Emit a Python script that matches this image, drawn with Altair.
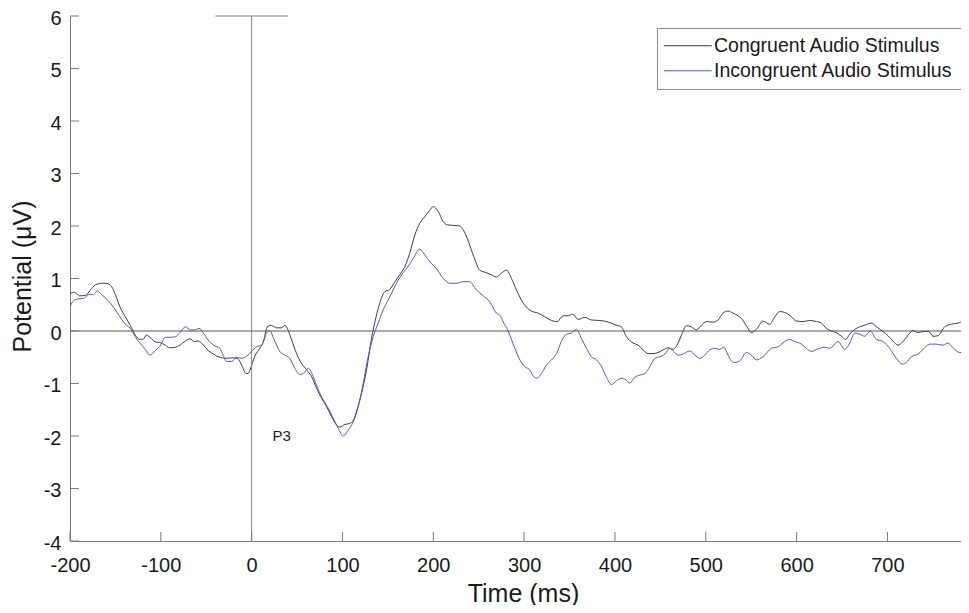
import altair as alt
import pandas as pd

# ---------------- data ----------------
series_names = ["Congruent Audio Stimulus", "Incongruent Audio Stimulus"]
series_colors = ["#3c3c3c", "#5050ff"]

cong_t = [-200, -196, -192, -189, -183, -178, -172, -163, -158, -154, -150, -145, -139, -136, -132,
          -128, -123, -119, -116, -112, -106, -101, -95, -90, -84, -79, -73, -68, -63, -59, -53, -48,
          -42, -37, -27.5, -20, -15, -11, -6, -4, 0, 4, 9, 13.5, 16.5, 20, 24, 28, 33, 36.6, 40, 44,
          49.5, 55, 60.5, 66, 71.5, 77, 82.5, 88, 93.5, 97, 102.6, 108, 112, 116, 121, 126.5, 132,
          137, 141, 146.6, 152, 157.7, 163, 168.7, 174, 179.7, 185, 190.7, 196, 200, 205, 211, 216,
          224, 229, 235, 240, 246, 251, 258.5, 264, 269.5, 275, 280.5, 286, 291.6, 299, 308, 315.5,
          322.8, 330, 336.4, 343, 348.5, 353.3, 359.5, 366.8, 374, 383.3, 390.7, 396, 401.7, 407,
          412.7, 420, 425.5, 431, 436.5, 442, 447.5, 453, 458.5, 464, 467.7, 473.2, 478.7, 484,
          489.7, 495.2, 500.7, 508, 513.6, 519, 524.6, 530, 535.6, 539.2, 544.7, 550.2, 555.7, 563,
          570.4, 576, 581.4, 588.8, 594.3, 599.8, 607.1, 614.4, 621.8, 627.3, 632.8, 638.3, 643.8,
          649.3, 654, 658.5, 664, 669.5, 675, 682.3, 687.8, 695.1, 700.6, 706.1, 711.7, 717.2,
          722.7, 728.2, 733.7, 739.2, 745.4, 750.2, 755.7, 763, 770.3, 777.7, 783.2, 789.4]
cong_v = [0.70, 0.74, 0.70, 0.67, 0.68, 0.77, 0.88, 0.91, 0.90, 0.84, 0.69, 0.46, 0.27, 0.18, 0.05,
          -0.08, -0.16, -0.15, -0.08, -0.12, -0.21, -0.22, -0.27, -0.32, -0.31, -0.27, -0.19, -0.15,
          -0.20, -0.19, -0.27, -0.37, -0.44, -0.49, -0.52, -0.51, -0.53, -0.65, -0.81, -0.81, -0.65,
          -0.46, -0.33, -0.17, 0.05, 0.11, 0.09, 0.06, 0.06, 0.11, 0.02, -0.17, -0.43, -0.62, -0.74,
          -0.87, -1.09, -1.28, -1.44, -1.63, -1.79, -1.83, -1.78, -1.76, -1.70, -1.50, -1.19, -0.74,
          -0.14, 0.27, 0.53, 0.75, 0.79, 0.94, 1.07, 1.23, 1.48, 1.83, 2.05, 2.18, 2.30, 2.37, 2.29,
          2.08, 2.02, 2.01, 2.00, 1.86, 1.64, 1.35, 1.16, 1.11, 1.07, 1.03, 1.10, 1.16, 1.00, 0.78,
          0.53, 0.38, 0.34, 0.27, 0.20, 0.18, 0.29, 0.29, 0.32, 0.22, 0.26, 0.21, 0.20, 0.18, 0.15,
          0.11, 0.08, -0.11, -0.23, -0.27, -0.36, -0.43, -0.43, -0.41, -0.36, -0.32, -0.35, -0.29,
          -0.08, 0.10, 0.08, 0.02, 0.11, 0.18, 0.17, 0.21, 0.34, 0.38, 0.34, 0.29, 0.24, 0.10, -0.03,
          0.03, 0.19, 0.13, 0.27, 0.37, 0.34, 0.27, 0.19, 0.18, 0.20, 0.18, 0.15, 0.05, 0.00, -0.03,
          -0.10, -0.16, -0.06, 0.03, 0.08, 0.11, 0.15, 0.08, -0.01, -0.09, -0.19, -0.27, -0.20,
          -0.08, 0.01, -0.03, -0.01, -0.01, -0.10, -0.09, 0.08, 0.13, 0.15, 0.18, 0.11]

incong_t = [-200, -196, -191, -185, -180, -174, -170, -165, -158, -152, -145, -138, -134, -128, -123,
            -117, -112, -106, -101, -95, -90, -84, -79, -73, -67, -62, -58, -53, -48, -42, -35, -32,
            -27.5, -22, -16.5, -11, -5.5, 0, 5.5, 11, 16.5, 19.5, 25.6, 31, 36.6, 42, 47.6, 53, 56.8,
            62.3, 67.8, 73.3, 78.8, 84.3, 89.8, 95.3, 100.8, 106.3, 111.8, 117.3, 122.8, 128.3, 133.8,
            139.3, 144.8, 150.3, 155.8, 161.3, 166.8, 172.3, 177.8, 185, 190.7, 196, 203.5, 211, 218,
            225.5, 233, 240, 247.5, 255, 262, 269.5, 273.3, 277, 282.4, 289.8, 295.3, 300.8, 306.3,
            310, 314.4, 319, 324.6, 330, 335.7, 341, 346.7, 352, 357.7, 363, 368.7, 374, 379.7, 385,
            390.7, 396, 401.7, 407, 412, 416.4, 421.9, 427.4, 432.9, 438.4, 443.9, 449.4, 454.9,
            460.4, 464.8, 469.6, 475, 482.4, 487.9, 493.4, 498.9, 504.4, 509.9, 515.4, 519.8, 524.6,
            528.3, 532, 537.4, 544.7, 550.2, 555.7, 563, 572.3, 579.6, 587, 592.4, 598, 605.3, 610.8,
            616.3, 623.6, 631, 636.5, 645.6, 653, 658.5, 664, 669.5, 675, 681.2, 687.8, 695.1, 702.5,
            709.8, 716.4, 720.8, 726.3, 733.7, 739.2, 746.5, 753.8, 761.2, 766.7, 772.2, 779.5, 788.7]
incong_v = [0.46, 0.58, 0.61, 0.62, 0.69, 0.70, 0.76, 0.69, 0.58, 0.45, 0.27, 0.11, 0.06, -0.11,
            -0.23, -0.35, -0.46, -0.37, -0.29, -0.12, -0.12, -0.11, -0.03, 0.08, 0.02, 0.02, 0.05,
            -0.04, -0.17, -0.27, -0.33, -0.44, -0.58, -0.58, -0.50, -0.52, -0.48, -0.39, -0.30,
            -0.27, -0.03, 0.01, -0.20, -0.39, -0.46, -0.52, -0.71, -0.83, -0.81, -0.71, -0.87, -1.12,
            -1.31, -1.47, -1.66, -1.85, -2.00, -1.89, -1.73, -1.44, -1.00, -0.49, -0.11, 0.15, 0.40,
            0.59, 0.78, 0.97, 1.11, 1.23, 1.38, 1.56, 1.45, 1.32, 1.19, 1.00, 0.91, 0.91, 0.94, 0.94,
            0.78, 0.67, 0.56, 0.34, 0.30, 0.17, 0.00, -0.33, -0.55, -0.68, -0.74, -0.86, -0.90,
            -0.81, -0.65, -0.55, -0.43, -0.20, -0.06, -0.04, 0.03, -0.14, -0.33, -0.49, -0.55, -0.67,
            -0.88, -1.02, -0.95, -0.90, -0.93, -0.99, -0.88, -0.84, -0.81, -0.68, -0.52, -0.49,
            -0.44, -0.33, -0.39, -0.46, -0.44, -0.38, -0.46, -0.52, -0.46, -0.36, -0.33, -0.35,
            -0.31, -0.46, -0.57, -0.60, -0.57, -0.41, -0.46, -0.55, -0.49, -0.33, -0.30, -0.20,
            -0.16, -0.20, -0.25, -0.33, -0.39, -0.34, -0.31, -0.33, -0.20, -0.35, -0.23, -0.04,
            -0.06, -0.10, 0.00, -0.16, -0.20, -0.33, -0.52, -0.63, -0.60, -0.49, -0.44, -0.35,
            -0.25, -0.25, -0.27, -0.23, -0.32, -0.41, -0.41]

x_ticks = [-200, -100, 0, 100, 200, 300, 400, 500, 600, 700]
y_ticks = [-4, -3, -2, -1, 0, 1, 2, 3, 4, 5, 6]
x_domain = [-200, 781]
y_domain = [-4, 6]

onset_t = [0]
onset_v = [-4, 6]
onset_cap_t = [-40, 40]
zero_level = [0]
annot_text = ["P3"]
annot_t = [33]
annot_v = [-2.0]

# ---------------- build tables ----------------
lines_df = pd.concat([
    pd.DataFrame({"t": cong_t, "v": cong_v, "series": series_names[0]}),
    pd.DataFrame({"t": incong_t, "v": incong_v, "series": series_names[1]}),
], ignore_index=True)
xt_df = pd.DataFrame({"t": x_ticks})
yt_df = pd.DataFrame({"v": y_ticks})
zero_df = pd.DataFrame({"v": zero_level})
onset_df = pd.DataFrame({"t": onset_t, "v": [onset_v[0]], "v2": [onset_v[1]]})
cap_df = pd.DataFrame({"t": [onset_cap_t[0]], "t2": [onset_cap_t[1]], "v": [onset_v[1]]})
annot_df = pd.DataFrame({"t": annot_t, "v": annot_v, "label": annot_text})

W, H = 891, 525
FONT = "Liberation Sans"
AX = "#7a7a7a"
TXT = "#1a1a1a"

xs = alt.Scale(domain=x_domain, nice=False, zero=False)
ys = alt.Scale(domain=y_domain, nice=False, zero=False)

x_axis = alt.Axis(values=x_ticks, title="Time (ms)", grid=False, ticks=False, tickSize=0,
                  labelExpr="'' + datum.value",
                  labelFont=FONT, labelFontSize=20, labelColor=TXT, labelPadding=14,
                  labelFlush=False, labelOverlap=False, domainColor=AX, domainWidth=1,
                  titleFont=FONT, titleFontSize=25, titleFontWeight="normal", titleColor=TXT,
                  titleBaseline="alphabetic", titleY=60, titleX=453)
y_axis = alt.Axis(values=y_ticks, title="Potential (μV)", grid=False, ticks=False, tickSize=0,
                  labelExpr="'' + datum.value",
                  labelFont=FONT, labelFontSize=20, labelColor=TXT, labelPadding=9, labelOffset=2,
                  labelOverlap=False, domainColor=AX, domainWidth=1,
                  titleFont=FONT, titleFontSize=25, titleFontWeight="normal", titleColor=TXT,
                  titleBaseline="alphabetic", titleX=-40, titleY=260)


def X(field):
    return alt.X(field, scale=xs, axis=x_axis)


def Y(field):
    return alt.Y(field, scale=ys, axis=y_axis)


zero_rule = alt.Chart(zero_df).mark_rule(color="#555", strokeWidth=1).encode(y=Y("v:Q"))

onset_rule = alt.Chart(onset_df).mark_rule(color="#808080", strokeWidth=1).encode(
    x=X("t:Q"), y=Y("v:Q"), y2="v2:Q")

cap_rule = alt.Chart(cap_df).mark_rule(color="#808080", strokeWidth=1).encode(
    x=X("t:Q"), x2="t2:Q", y=Y("v:Q"))

lines = alt.Chart(lines_df).mark_line(strokeWidth=1, clip=True, interpolate="monotone").encode(
    x=X("t:Q"),
    y=Y("v:Q"),
    stroke=alt.Stroke("series:N",
                      scale=alt.Scale(domain=series_names, range=series_colors),
                      legend=alt.Legend(title=None, orient="none", legendX=587, legendY=12,
                                        symbolType="M-4,0H4", symbolSize=144, symbolStrokeWidth=1,
                                        symbolOffset=13, labelOffset=16.5, labelFont=FONT,
                                        labelFontSize=19.5, labelColor=TXT, labelLimit=500,
                                        padding=8, rowPadding=4, strokeColor="#8a8a8a",
                                        fillColor="white")),
)

x_tick_marks = alt.Chart(xt_df).mark_rule(color=AX, strokeWidth=1).encode(
    x=X("t:Q"), y=alt.value(H), y2=alt.value(H - 9))
y_tick_marks = alt.Chart(yt_df).mark_rule(color=AX, strokeWidth=1).encode(
    y=Y("v:Q"), x=alt.value(0), x2=alt.value(9))

annot = alt.Chart(annot_df).mark_text(font=FONT, fontSize=15, color=TXT).encode(
    x=X("t:Q"), y=Y("v:Q"), text="label:N")

chart = alt.layer(lines, zero_rule, onset_rule, cap_rule, x_tick_marks, y_tick_marks, annot).properties(
    width=W, height=H,
    background="white",
    padding={"left": 62, "top": 8, "right": 0, "bottom": 64},
    autosize=alt.AutoSizeParams(type="none"),
).configure_view(stroke=None)

chart.save("out.html", embed_options={"renderer": "svg", "actions": False})
